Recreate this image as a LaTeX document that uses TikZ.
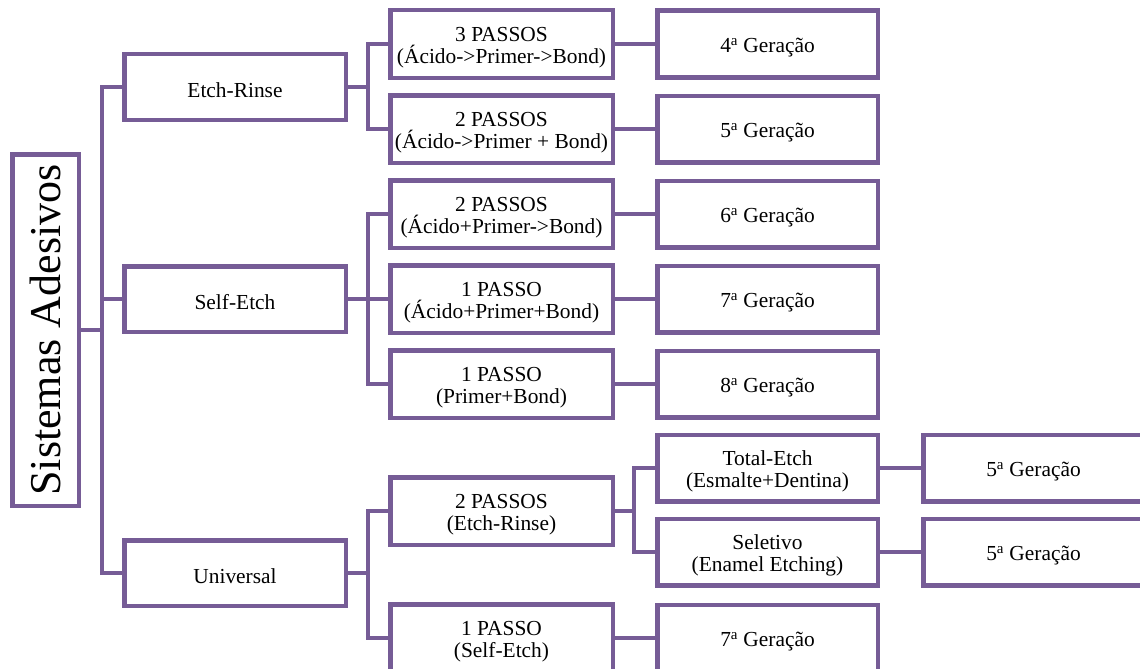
\documentclass[tikz,border=0pt]{standalone}
\usepackage{fontspec}
\setmainfont{Liberation Serif}
\definecolor{pur}{RGB}{118,92,150}
\newcommand{\myraise}{\rule{0pt}{22pt}}
\begin{document}
\begin{tikzpicture}[x=1pt,y=-1pt,
 frame/.style={draw=pur,line width=4.5pt,fill=white,inner sep=0pt,align=center},
 box/.style={frame,font=\fontsize{21.4}{22.5}\selectfont},
 l1/.style={box,minimum width=221.5pt,minimum height=65.5pt},
 l2/.style={box,minimum width=222.5pt,minimum height=67.5pt},
 l3/.style={box,minimum width=220.5pt,minimum height=66.5pt},
 l4/.style={box,minimum width=220.5pt,minimum height=66.5pt},
 conn/.style={draw=pur,line width=4.5pt}]
\clip (0,0) rectangle (1140,669);
\fill[white] (0,0) rectangle (1140,669);
% root
\node[frame,rotate=90,minimum width=351.5pt,minimum height=66.5pt,font=\fontsize{44}{48}\selectfont] (root) at (45.5,330) {Sistemas Adesivos};
% level 1
\node[l1] (er) at (235,87) {\myraise Etch-Rinse};
\node[l1] (se) at (235,299) {\myraise Self-Etch};
\node[l1] (un) at (235,573) {\myraise Universal};
% level 2
\node[l2] (a1) at (501.5,44) {\myraise 3 PASSOS\\(Ácido->Primer->Bond)};
\node[l2] (a2) at (501.5,129) {\myraise 2 PASSOS\\(Ácido->Primer + Bond)};
\node[l2] (b1) at (501.5,214) {\myraise 2 PASSOS\\(Ácido+Primer->Bond)};
\node[l2] (b2) at (501.5,299) {\myraise 1 PASSO\\(Ácido+Primer+Bond)};
\node[l2] (b3) at (501.5,384) {\myraise 1 PASSO\\(Primer+Bond)};
\node[l2] (c1) at (501.5,511) {\myraise 2 PASSOS\\(Etch-Rinse)};
\node[l2] (c2) at (501.5,638) {\myraise 1 PASSO\\(Self-Etch)};
% level 3
\node[l3] (g4) at (767.5,44) {\myraise 4\textsuperscript{a} Geração};
\node[l3] (g5) at (767.5,129) {\myraise 5\textsuperscript{a} Geração};
\node[l3] (g6) at (767.5,214) {\myraise 6\textsuperscript{a} Geração};
\node[l3] (g7) at (767.5,299) {\myraise 7\textsuperscript{a} Geração};
\node[l3] (g8) at (767.5,384) {\myraise 8\textsuperscript{a} Geração};
\node[l3] (te) at (767.5,468) {\myraise Total-Etch\\(Esmalte+Dentina)};
\node[l3] (sl) at (767.5,552) {\myraise Seletivo\\(Enamel Etching)};
\node[l3] (g7b) at (767.5,638) {\myraise 7\textsuperscript{a} Geração};
% level 4
\node[l4] (h1) at (1033.5,468) {\myraise 5\textsuperscript{a} Geração};
\node[l4] (h2) at (1033.5,552) {\myraise 5\textsuperscript{a} Geração};
% connectors
\coordinate (t0) at (102,330);
\coordinate (t1) at (368,87);
\coordinate (t2) at (368,299);
\coordinate (t3) at (368,573);
\coordinate (t4) at (634,511);
\draw[conn] (root.south) -- (t0);
\draw[conn] (t0) |- (er.west);
\draw[conn] (t0) |- (se.west);
\draw[conn] (t0) |- (un.west);
\draw[conn] (er.east) -- (t1);
\draw[conn] (t1) |- (a1.west);
\draw[conn] (t1) |- (a2.west);
\draw[conn] (se.east) -- (t2);
\draw[conn] (t2) |- (b1.west);
\draw[conn] (t2) |- (b3.west);
\draw[conn] (t2) -- (b2.west);
\draw[conn] (un.east) -- (t3);
\draw[conn] (t3) |- (c1.west);
\draw[conn] (t3) |- (c2.west);
\draw[conn] (a1.east) -- (g4.west);
\draw[conn] (a2.east) -- (g5.west);
\draw[conn] (b1.east) -- (g6.west);
\draw[conn] (b2.east) -- (g7.west);
\draw[conn] (b3.east) -- (g8.west);
\draw[conn] (c2.east) -- (g7b.west);
\draw[conn] (c1.east) -- (t4);
\draw[conn] (t4) |- (te.west);
\draw[conn] (t4) |- (sl.west);
\draw[conn] (te.east) -- (h1.west);
\draw[conn] (sl.east) -- (h2.west);
\end{tikzpicture}
\end{document}
